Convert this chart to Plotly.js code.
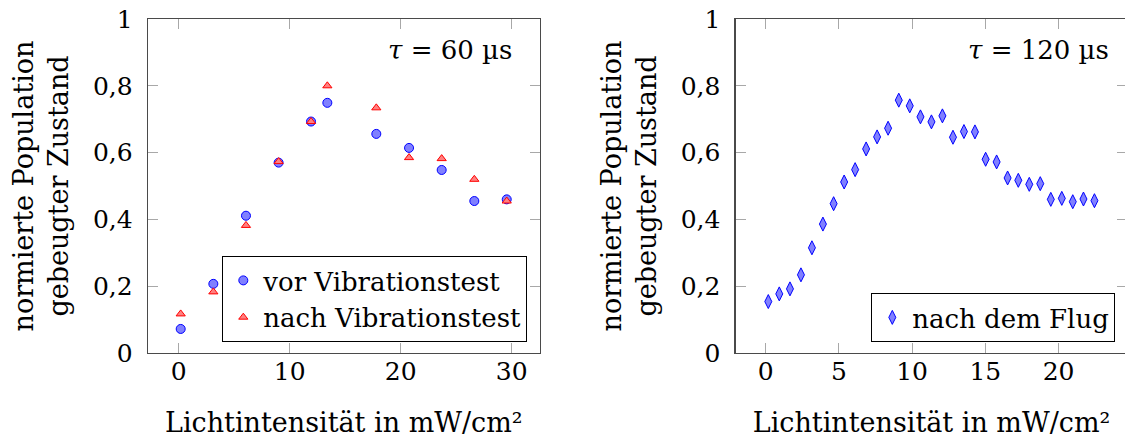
<!DOCTYPE html>
<html>
<head>
<meta charset="utf-8">
<script src="https://cdn.plot.ly/plotly-3.0.1.min.js"></script>
<style>
html,body{margin:0;padding:0;overflow:hidden;background:#fff;}
#chart{width:1130px;height:438px;}
</style>
</head>
<body>
<div id="chart"></div>
<script>
// ---- data ----
const xLeft = [0.18, 3.12, 6.06, 9.0, 11.92, 13.39, 17.8, 20.75, 23.69, 26.63, 29.55];
const yVor = [0.072, 0.207, 0.411, 0.570, 0.693, 0.749, 0.656, 0.614, 0.548, 0.455, 0.460];
const yNach = [0.117, 0.183, 0.382, 0.573, 0.693, 0.800, 0.734, 0.585, 0.582, 0.520, 0.455];

const xFlug = [0.18, 0.93, 1.66, 2.41, 3.16, 3.91, 4.64, 5.36, 6.11, 6.86, 7.61, 8.36, 9.09, 9.84, 10.57, 11.32,
               12.07, 12.79, 13.54, 14.29, 15.02, 15.77, 16.52, 17.25, 18.0, 18.75, 19.47, 20.22, 20.97, 21.7, 22.45];
const yFlug = [0.154, 0.177, 0.192, 0.234, 0.315, 0.386, 0.447, 0.512, 0.549, 0.611, 0.647, 0.673, 0.757, 0.740, 0.707, 0.692,
               0.710, 0.646, 0.663, 0.662, 0.580, 0.572, 0.524, 0.517, 0.505, 0.507, 0.460, 0.463, 0.453, 0.461, 0.456];

const yTickVals = [0, 0.2, 0.4, 0.6, 0.8, 1];
const yTickText = ['0', '0,2', '0,4', '0,6', '0,8', '1'];
const xTickLeft = [0, 10, 20, 30];
const xTickRight = [0, 5, 10, 15, 20];

const seriesNames = ['vor Vibrationstest', 'nach Vibrationstest', 'nach dem Flug'];
const xTitle = 'Lichtintensität in mW/cm²';
const yTitle = 'normierte Population<br>gebeugter Zustand';
const tauLabels = ['<i>τ</i> = 60 µs', '<i>τ</i> = 120 µs'];

// ---- layout helpers ----
const W = 1130, H = 438;
const FONT = 'DejaVu Serif';
const FS = 25;   // tick labels
const FT = 27;   // axis titles
const FL = 26;   // legend

const traces = [
  {x: xLeft, y: yVor, name: seriesNames[0], type: 'scatter', mode: 'markers', xaxis: 'x', yaxis: 'y', legend: 'legend',
   marker: {symbol: 'circle', size: 9, color: 'rgb(128,128,255)', line: {color: 'rgb(0,0,255)', width: 1}}},
  {x: xLeft, y: yNach, name: seriesNames[1], type: 'scatter', mode: 'markers', xaxis: 'x', yaxis: 'y', legend: 'legend',
   marker: {symbol: 'triangle-up', size: 8, color: 'rgb(255,128,128)', line: {color: 'rgb(255,0,0)', width: 1}}},
  {x: xFlug, y: yFlug, name: seriesNames[2], type: 'scatter', mode: 'markers', xaxis: 'x2', yaxis: 'y2', legend: 'legend2',
   marker: {symbol: 'diamond-tall', size: 10, color: 'rgb(128,128,255)', line: {color: 'rgb(0,0,255)', width: 1}}}
];

function xax(range, dom, tv, anchor) {
  return {
    range: range, domain: dom, anchor: anchor, tickmode: 'array', tickvals: tv,
    ticks: 'inside', ticklen: 10, tickwidth: 1, tickcolor: '#a8a8a8',
    showline: true, linecolor: '#4a4a4a', linewidth: 1.3, mirror: 'allticks',
    showgrid: false, zeroline: false, ticklabelstandoff: -4,
    tickfont: {family: FONT, size: FS, color: '#000'},
    title: {text: xTitle, font: {family: FONT, size: FT, color: '#000'}, standoff: 28}
  };
}
function yax(dom, anchor) {
  return {
    range: [0, 1], domain: dom, anchor: anchor, tickmode: 'array', tickvals: yTickVals, ticktext: yTickText,
    ticks: 'inside', ticklen: 10, tickwidth: 1, tickcolor: '#a8a8a8',
    showline: true, linecolor: '#4a4a4a', linewidth: 1.3, mirror: 'allticks',
    showgrid: false, zeroline: false, ticklabelstandoff: 9,
    tickfont: {family: FONT, size: FS, color: '#000'},
    title: {text: yTitle, font: {family: FONT, size: FT, color: '#000'}, standoff: 16}
  };
}

const legendBase = {xanchor: 'right', y: 0.033, yanchor: 'bottom', bgcolor: '#fff',
                    bordercolor: '#000', borderwidth: 1, font: {family: FONT, size: FL, color: '#000'},
                    itemwidth: 30, tracegroupgap: 0};

const layout = {
  width: W, height: H,
  margin: {l: 0, r: 0, t: 19, b: 85},
  paper_bgcolor: '#fff', plot_bgcolor: '#fff',
  font: {family: FONT, size: FS, color: '#000'},
  xaxis: xax([-2.766, 32.52], [148 / W, 539.7 / W], xTickLeft, 'y'),
  yaxis: yax([0, 1], 'x'),
  xaxis2: xax([-2.045, 24.70], [735.7 / W, 1127.4 / W], xTickRight, 'y2'),
  yaxis2: yax([0, 1], 'x2'),
  showlegend: true,
  legend: Object.assign({}, legendBase, {x: 527.3 / W}),
  legend2: Object.assign({}, legendBase, {x: 1115.3 / W}),
  annotations: [
    {text: tauLabels[0], xref: 'paper', yref: 'paper', x: 514 / W, y: 0.907, xanchor: 'right', yanchor: 'middle',
     showarrow: false, font: {family: FONT, size: 26, color: '#000'}},
    {text: tauLabels[1], xref: 'paper', yref: 'paper', x: 1111 / W, y: 0.907, xanchor: 'right', yanchor: 'middle',
     showarrow: false, font: {family: FONT, size: 26, color: '#000'}}
  ]
};

Plotly.newPlot('chart', traces, layout, {staticPlot: true, displayModeBar: false});
</script>
</body>
</html>
